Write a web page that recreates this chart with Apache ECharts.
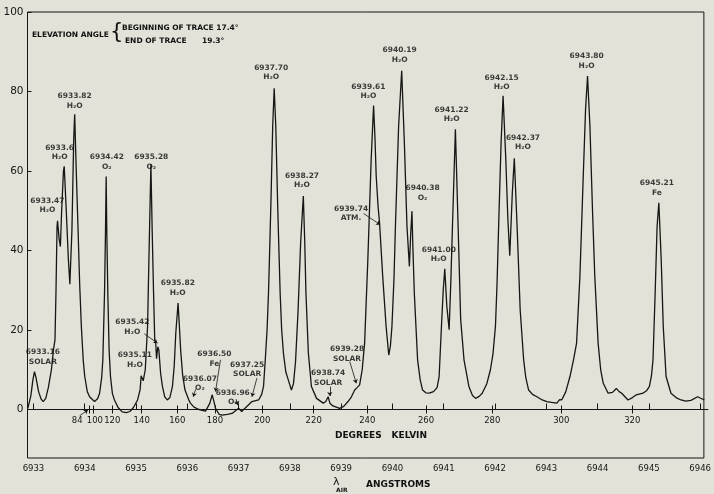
<!DOCTYPE html>
<html><head><meta charset="utf-8">
<script src="https://cdn.jsdelivr.net/npm/echarts@6/dist/echarts.min.js"></script>
<style>html,body{margin:0;padding:0;background:#e2e2d8}#c{width:714px;height:494px}</style>
</head><body><div id="c"></div>
<script>
// ---- data ----
const spectrumLambda = [
6932.89,6932.95,6932.99,6933.02,6933.05,6933.10,6933.15,6933.19,6933.24,6933.29,6933.35,6933.39,6933.42,6933.44,6933.46,6933.47,6933.50,6933.525,6933.55,6933.585,6933.60,6933.64,6933.68,6933.71,6933.75,6933.785,6933.804,6933.83,6933.868,6933.90,6933.934,6933.97,6934.00,6934.05,6934.095,6934.19,6934.25,6934.29,6934.33,6934.353,6934.386,6934.405,6934.418,6934.43,6934.45,6934.475,6934.502,6934.54,6934.58,6934.65,6934.73,6934.81,6934.88,6934.95,6935.03,6935.08,6935.10,6935.14,6935.18,6935.225,6935.255,6935.29,6935.315,6935.342,6935.365,6935.385,6935.40,6935.425,6935.445,6935.48,6935.515,6935.56,6935.61,6935.66,6935.71,6935.745,6935.775,6935.82,6935.845,6935.87,6935.91,6935.955,6936.03,6936.06,6936.097,6936.13,6936.227,6936.356,6936.44,6936.485,6936.52,6936.55,6936.62,6936.68,6936.78,6936.872,6936.94,6937.00,6937.06,6937.14,6937.26,6937.39,6937.45,6937.486,6937.52,6937.555,6937.583,6937.61,6937.635,6937.665,6937.694,6937.725,6937.764,6937.81,6937.84,6937.874,6937.92,6937.97,6938.03,6938.07,6938.11,6938.16,6938.21,6938.262,6938.29,6938.313,6938.36,6938.42,6938.52,6938.65,6938.70,6938.746,6938.78,6938.84,6938.97,6939.05,6939.134,6939.20,6939.264,6939.31,6939.36,6939.41,6939.457,6939.52,6939.585,6939.632,6939.66,6939.683,6939.72,6939.748,6939.78,6939.81,6939.876,6939.928,6939.96,6939.99,6940.03,6940.058,6940.12,6940.18,6940.232,6940.283,6940.33,6940.355,6940.38,6940.40,6940.426,6940.49,6940.54,6940.587,6940.65,6940.717,6940.80,6940.87,6940.91,6940.955,6940.99,6941.02,6941.06,6941.105,6941.14,6941.17,6941.227,6941.28,6941.33,6941.395,6941.49,6941.56,6941.62,6941.69,6941.75,6941.84,6941.91,6941.96,6942.008,6942.04,6942.07,6942.118,6942.157,6942.21,6942.25,6942.287,6942.337,6942.376,6942.43,6942.49,6942.558,6942.60,6942.655,6942.73,6942.816,6942.92,6943.01,6943.10,6943.204,6943.26,6943.30,6943.38,6943.461,6943.53,6943.59,6943.655,6943.72,6943.765,6943.804,6943.85,6943.90,6943.945,6944.01,6944.06,6944.11,6944.205,6944.29,6944.366,6944.42,6944.47,6944.593,6944.68,6944.755,6944.884,6944.96,6945.01,6945.05,6945.08,6945.122,6945.16,6945.194,6945.24,6945.28,6945.335,6945.43,6945.53,6945.625,6945.72,6945.82,6945.95,6946.08];
const spectrumValue = [
0.3,3.5,7.5,9.5,8.0,4.5,2.6,2.0,2.8,5.5,10.0,15.0,17.5,30,46,47.5,43,41,50,60,61.2,50,38,31.5,45,68,74.3,62,46.1,32,20.9,12.5,8.3,4.5,3.2,2.0,2.7,4.1,8,12.5,29.4,45,58.6,45,29.3,15,8.3,4,2.4,0.5,-0.6,-0.8,-0.5,0.5,2.4,5.0,8.5,7.2,10,20.9,40,61.7,45,29.3,17.5,16.5,12.8,15.8,15.0,9,5.8,3.2,2.4,3.0,5.8,11,19.2,26.8,21,15,8.5,4.9,2.4,1.6,1.9,0.6,0,-0.4,1.6,3.7,2.0,0.3,-1.2,-1.4,-1.2,-1.0,-0.3,0.3,-0.5,0.5,2.0,2.4,3.8,5.8,12.5,20,29.3,42,54.5,71.3,80.8,71.3,50.3,29.3,20,14.2,9.5,7.4,4.9,6.5,12,25,42,53.7,42,29.3,14.2,5.8,2.8,1.6,2.0,3.2,1.6,0.9,0.3,0.8,2.0,3.2,4.9,5.5,6.2,10,16.7,37.7,62.9,76.5,68,58.7,51,47.0,40,33.5,20.9,13.7,16,20.9,33,46.1,71.3,85.2,67.1,46.1,36.0,44,49.9,40,29.3,12.5,7.5,4.9,4.2,4.1,4.5,5.5,8.3,20.9,30,35.4,26,20.1,33,46.1,70.5,46.1,22.6,12.5,5.8,3.5,2.8,3.3,4.1,6.5,10.0,14,20.9,32,46.1,67.1,78.9,62.9,48,38.7,54.5,63.2,46.1,25.1,12.5,8,4.9,3.8,3.2,2.4,2.0,1.8,1.6,2.5,2.4,4.5,8.3,12.5,16.7,33.5,58.7,75.5,83.9,71.3,50.3,33.5,16.7,10,6.6,4.1,4.3,5.3,4.5,4.1,2.4,3.0,3.7,4.1,4.8,5.8,8.5,12.5,29.3,46.1,52.0,37.7,20.9,8.3,4.1,3.0,2.4,2.1,2.3,3.2,2.4];

const peakLabelText = ['6933.16\nSOLAR','6933.47\nH₂O','6933.6\nH₂O','6933.82\nH₂O','6934.42\nO₂','6935.28\nO₂','6935.42\nH₂O','6935.11\nH₂O','6935.82\nH₂O','6936.07\nO₂','6936.50\nFe','6936.96\nO₂','6937.25\nSOLAR','6937.70\nH₂O','6938.27\nH₂O','6938.74\nSOLAR','6939.28\nSOLAR','6939.74\nATM.','6939.61\nH₂O','6940.19\nH₂O','6940.38\nO₂','6941.22\nH₂O','6941.00\nH₂O','6942.15\nH₂O','6942.37\nH₂O','6943.80\nH₂O','6945.21\nFe'];
const peakLabelLambda = [6933.184,6933.273,6933.51,6933.804,6934.43,6935.297,6934.928,6934.977,6935.814,6936.246,6936.527,6936.886,6937.167,6937.636,6938.236,6938.746,6939.114,6939.192,6939.531,6940.141,6940.587,6941.155,6940.903,6942.128,6942.545,6943.785,6945.155];
const peakLabelValue = [13.2,51.35,64.6,77.55,62.2,62.2,20.7,12.4,30.6,6.5,12.7,3.0,10.0,84.8,57.6,7.9,14.0,49.35,79.95,89.15,54.4,74.15,39.0,82.2,67.2,87.6,55.7];

const leaderFrom = [[6935.161,19.05],[6936.163,5.1],[6936.647,12.5],[6936.95,2.6],[6937.357,7.9],[6938.779,5.75],[6939.167,12.05],[6939.438,49.3],[6933.901,-1.56]];
const leaderTo   = [[6935.419,16.7],[6936.116,3.2],[6936.55,4.5],[6936.99,1.1],[6937.26,3.2],[6938.779,3.4],[6939.295,6.6],[6939.76,46.5],[6934.062,-0.13]];

const kelvinText   = ['84','100','120','140','160','180','200','220','240','260','280','300','320'];
const kelvinLambda = [6934.076,6934.159,6934.527,6935.097,6935.787,6936.517,6937.434,6938.430,6939.469,6940.607,6941.891,6943.229,6944.605];

const lambdaTicks = [6933,6934,6935,6936,6937,6938,6939,6940,6941,6942,6943,6944,6945,6946];
const yTicks = [0,20,40,60,80,100];

// ---- chart ----
const FONT = 'DejaVu Sans';
const INK = '#161616';
const XMIN = 6932.884, XMAX = 6946.072;
const kelvinLabelPos = kelvinLambda.map((v,i)=> i===0 ? v-0.23 : (i===1 ? v+0.03 : v));

const chart = echarts.init(document.getElementById('c'));
const gridBase = {left:27.5, right:6, top:12};
chart.setOption({
  animation:false,
  backgroundColor:'#e2e2d8',
  grid:[
    Object.assign({bottom:36, show:true, borderColor:INK, borderWidth:1, backgroundColor:'transparent'}, gridBase),
    Object.assign({bottom:84.5}, gridBase),
    Object.assign({bottom:84.5}, gridBase)
  ],
  xAxis:[
    {type:'value', gridIndex:0, min:XMIN, max:XMAX, position:'bottom',
     axisLine:{show:false}, splitLine:{show:false},
     axisTick:{show:true, inside:true, length:6, customValues:lambdaTicks, lineStyle:{color:INK}},
     axisLabel:{show:true, customValues:lambdaTicks, margin:6, color:'#161616', fontFamily:FONT, fontSize:8.5,
       formatter:v=>String(Math.round(v))}},
    {type:'value', gridIndex:1, min:XMIN, max:XMAX, position:'bottom',
     axisLine:{show:true, onZero:false, lineStyle:{color:INK, width:1}}, splitLine:{show:false},
     axisTick:{show:true, inside:false, length:4, customValues:kelvinLambda, lineStyle:{color:INK}},
     axisLabel:{show:true, customValues:kelvinLabelPos, margin:7, color:'#161616', fontFamily:FONT, fontSize:8.5,
       formatter:function(v){let b=0,d=1e9;kelvinLabelPos.forEach((p,i)=>{if(Math.abs(p-v)<d){d=Math.abs(p-v);b=i;}});return kelvinText[b];}}},
    {type:'value', gridIndex:2, min:XMIN, max:XMAX, position:'bottom',
     axisLine:{show:false}, splitLine:{show:false}, axisLabel:{show:false},
     axisTick:{show:true, inside:true, length:4, customValues:kelvinLambda, lineStyle:{color:INK}}}
  ],
  yAxis:[
    {type:'value', gridIndex:0, min:-12.2, max:100,
     axisLine:{show:false}, splitLine:{show:false},
     axisTick:{show:true, inside:true, length:4, customValues:yTicks, lineStyle:{color:INK}},
     axisLabel:{show:true, customValues:yTicks, margin:4, color:'#161616', fontFamily:FONT, fontSize:10.5}},
    {type:'value', gridIndex:1, show:false, min:0, max:1},
    {type:'value', gridIndex:2, show:false, min:0, max:1}
  ],
  series:[
    {type:'line', xAxisIndex:0, yAxisIndex:0, symbol:'none', showSymbol:false, clip:true,
     lineStyle:{color:INK, width:1.3}, data:spectrumLambda.map((x,i)=>[x, spectrumValue[i]])},
    {type:'scatter', xAxisIndex:0, yAxisIndex:0, symbolSize:0, silent:true,
     itemStyle:{color:'transparent'},
     label:{show:true, position:'inside', formatter:p=>p.data.name, color:'#0e0e0e', fontFamily:FONT,
       fontWeight:'bold', fontSize:7.5, lineHeight:9.5, align:'center', verticalAlign:'middle',
       textBorderWidth:0, textBorderColor:'transparent'},
     data:peakLabelText.map((t,i)=>({name:t, value:[peakLabelLambda[i], peakLabelValue[i]]})),
     markLine:{silent:true, symbol:['none','arrow'], symbolSize:4, animation:false,
       label:{show:false}, lineStyle:{color:INK, width:0.8, type:'solid'}, itemStyle:{color:INK},
       data:leaderFrom.map((f,i)=>[{coord:f},{coord:leaderTo[i]}])}}
  ],
  graphic:[
    {type:'text', left:32, top:31, style:{text:'ELEVATION ANGLE', fill:'#111', font:'bold 7.5px "DejaVu Sans"'}},
    {type:'text', left:110, top:22, style:{text:'{', fill:'#111', font:'21px "DejaVu Sans"'}},
    {type:'text', left:122, top:24, style:{text:'BEGINNING OF TRACE 17.4°', fill:'#111', font:'bold 7.5px "DejaVu Sans"'}},
    {type:'text', left:125, top:37, style:{text:'END OF TRACE', fill:'#111', font:'bold 7.5px "DejaVu Sans"'}},
    {type:'text', left:202, top:37, style:{text:'19.3°', fill:'#111', font:'bold 7.5px "DejaVu Sans"'}},
    {type:'text', left:335, top:431, style:{text:'DEGREES', fill:'#111', font:'bold 9px "DejaVu Sans"'}},
    {type:'text', right:714-427, top:431, style:{text:'KELVIN', fill:'#111', font:'bold 9px "DejaVu Sans"'}},
    {type:'text', left:333, top:477, style:{text:'λ', fill:'#111', font:'11px "DejaVu Sans"'}},
    {type:'text', left:336, top:487, style:{text:'AIR', fill:'#111', font:'bold 6px "DejaVu Sans"'}},
    {type:'text', left:366, top:480, style:{text:'ANGSTROMS', fill:'#111', font:'bold 9px "DejaVu Sans"'}}
  ]
});
</script>
</body></html>
